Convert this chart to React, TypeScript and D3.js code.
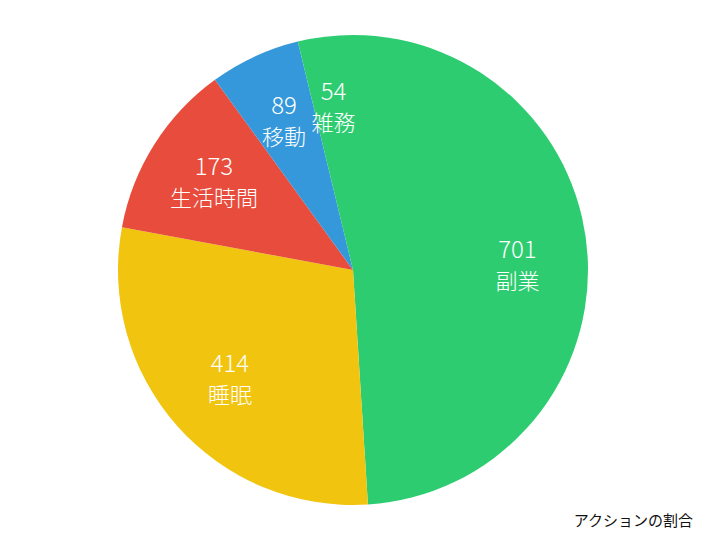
import * as d3 from 'd3';

const categories = ['副業', '睡眠', '生活時間', '移動', '雑務'];
const values = [701, 414, 173, 89, 54];
const colors = ['#2ecc71', '#f1c40f', '#e74c3c', '#3498db', '#2ecc71'];
const title = 'アクションの割合';

type Slice = { name: string; value: number; color: string };

const slices: Slice[] = categories.map((name, i) => ({ name, value: values[i], color: colors[i] }));

const width = 706;
const height = 540;
const cx = 353;
const cy = 270;
const radius = 235;
const font = '"Noto Sans CJK JP", "Noto Sans", sans-serif';

export default function App() {
    const pie = d3.pie<Slice>().value(d => d.value).sort(null);
    const arcs = pie(slices);
    const arc = d3.arc<d3.PieArcDatum<Slice>>().innerRadius(0).outerRadius(radius);
    const labelArc = d3.arc<d3.PieArcDatum<Slice>>().innerRadius(radius * 0.7).outerRadius(radius * 0.7);

    return (
        <svg width={width} height={height} style={{ position: 'absolute', left: 0, top: 0, background: 'white' }}>
            <g transform={`translate(${cx}, ${cy})`}>
                {arcs.map((a, i) => (
                    <path key={i} d={arc(a) || ''} fill={a.data.color} />
                ))}
                {arcs.map((a, i) => {
                    const [x, y] = labelArc.centroid(a);
                    return (
                        <g key={'l' + i} transform={`translate(${x}, ${y})`} fill="white" textAnchor="middle" style={{ fontFamily: font }}>
                            <text y={-7} fontSize={24} fontWeight={300}>{a.data.value}</text>
                            <text y={24} fontSize={22} fontWeight={300}>{a.data.name}</text>
                        </g>
                    );
                })}
            </g>
            <text x={693} y={526} textAnchor="end" fontSize={15} fill="#111" style={{ fontFamily: font }}>{title}</text>
        </svg>
    );
}
